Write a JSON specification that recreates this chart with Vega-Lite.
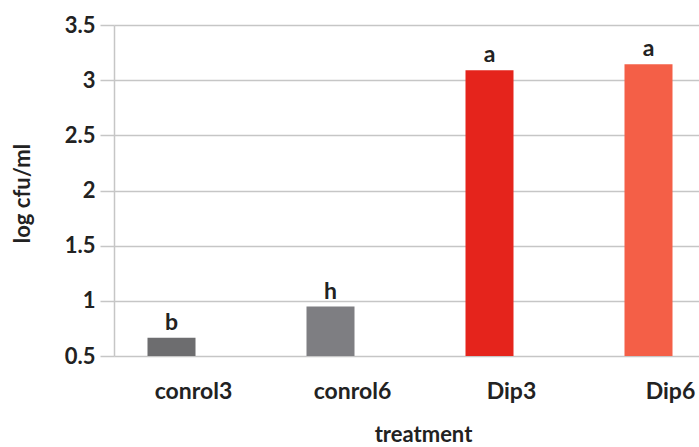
{
  "$schema": "https://vega.github.io/schema/vega-lite/v6.json",
  "width": 580,
  "height": 331,
  "autosize": "none",
  "padding": {"left": 114, "top": 25, "right": 5, "bottom": 91},
  "background": "white",
  "config": {"view": {"stroke": null}, "font": "Lato"},
  "data": {"values": [
    {"treatment": "conrol3", "value": 0.665, "letter": "b", "color": "#6d6d6f"},
    {"treatment": "conrol6", "value": 0.948, "letter": "h", "color": "#7e7e82"},
    {"treatment": "Dip3", "value": 3.09, "letter": "a", "color": "#e5241c"},
    {"treatment": "Dip6", "value": 3.145, "letter": "a", "color": "#f45f47"}
  ]},
  "encoding": {
    "x": {"field": "treatment", "type": "nominal", "sort": null,
      "scale": {"range": [0, 636], "paddingInner": 0, "paddingOuter": 0},
      "axis": {"title": "treatment", "labelAngle": 0, "domain": false, "ticks": false, "grid": false,
        "labelFont": "Lato", "labelFontSize": 23, "labelFontWeight": "bold", "labelColor": "#222222", "labelPadding": 42, "labelBaseline": "alphabetic",
        "titleFont": "Lato", "titleFontSize": 22, "titleFontWeight": "bold", "titleColor": "#222222",
        "titleX": 309, "titleY": 85, "titleAnchor": null, "titleAlign": "center", "titleBaseline": "alphabetic"}},
    "y": {"field": "value", "type": "quantitative",
      "scale": {"domain": [0.5, 3.5], "nice": false, "zero": false},
      "axis": {"title": "log cfu/ml", "values": [0.5, 1, 1.5, 2, 2.5, 3, 3.5], "format": "~g",
        "grid": true, "gridColor": "#c6c6c6", "gridWidth": 1.5,
        "domain": true, "domainColor": "#c6c6c6", "domainWidth": 1.5,
        "ticks": true, "tickSize": 14, "tickColor": "#c6c6c6", "tickWidth": 1.5,
        "labelFont": "Lato", "labelFontSize": 22, "labelFontWeight": "bold", "labelColor": "#222222", "labelPadding": 5,
        "titleFont": "Lato", "titleFontSize": 22, "titleFontWeight": "bold", "titleColor": "#222222",
        "titleX": -92, "titleY": 168, "titleAngle": -90, "titleAlign": "center", "titleBaseline": "middle"}}
  },
  "layer": [
    {"mark": {"type": "bar", "width": 48, "xOffset": -22},
     "encoding": {"y2": {"datum": 0.5}, "color": {"field": "color", "type": "nominal", "scale": null, "legend": null}}},
    {"mark": {"type": "text", "dx": -22, "dy": -8, "baseline": "alphabetic", "font": "Lato", "fontSize": 23, "fontWeight": "bold", "color": "#222222"},
     "encoding": {"text": {"field": "letter"}}}
  ]
}
